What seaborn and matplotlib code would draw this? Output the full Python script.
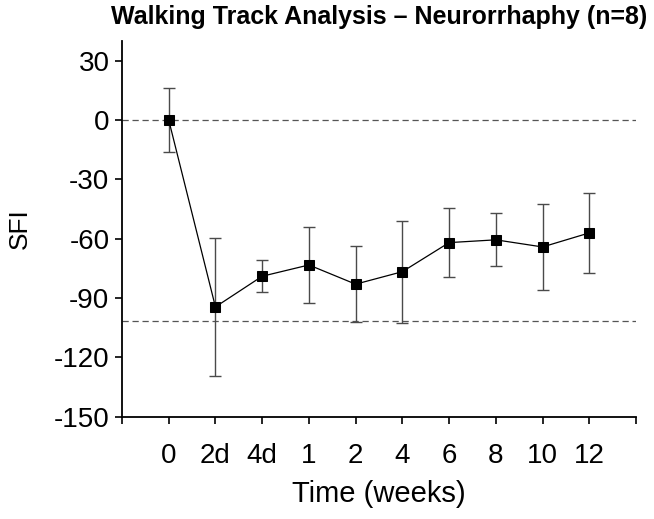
import matplotlib
matplotlib.use("Agg")
import matplotlib.pyplot as plt
import numpy as np
import pandas as pd
import seaborn as sns

time_labels = ["0", "2d", "4d", "1", "2", "4", "6", "8", "10", "12"]
sfi_mean = [0.0, -94.5, -79.0, -73.3, -83.0, -76.7, -62.0, -60.6, -64.2, -57.1]
sfi_err = [16.0, 35.0, 8.0, 19.0, 19.2, 25.8, 17.6, 13.4, 21.9, 20.2]
normal_line = 0.0
denervated_line = -101.5

sns.set_theme(style="ticks")
plt.rcParams["font.family"] = ["Liberation Sans", "DejaVu Sans"]
plt.rcParams["axes.unicode_minus"] = False
plt.rcParams["text.color"] = "black"
plt.rcParams["axes.labelcolor"] = "black"

df = pd.DataFrame({"pos": np.arange(len(time_labels)), "SFI": sfi_mean})

fig = plt.figure(figsize=(6.54, 5.19), dpi=100)
ax = fig.add_axes([0.1865, 0.197, 0.786, 0.7245])

ax.axhline(normal_line, color="#555555", linestyle=(0, (5, 3)), linewidth=0.9, zorder=1)
ax.axhline(denervated_line, color="#555555", linestyle=(0, (5, 3)), linewidth=0.9, zorder=1)

ax.errorbar(df["pos"], df["SFI"], yerr=sfi_err, fmt="none", ecolor="#4a4a4a",
            elinewidth=1.0, capsize=4, capthick=1.0, zorder=2)
sns.lineplot(data=df, x="pos", y="SFI", ax=ax, color="black", linewidth=0.9,
             marker="s", markersize=7, markeredgecolor="black", zorder=3)

ax.set_xlim(-1, 10)
ax.set_ylim(-150, 40)
ax.set_xticks(np.arange(-1, 11))
ax.set_xticklabels([""] + time_labels + [""])
ax.set_yticks(np.arange(-150, 31, 30))

ax.tick_params(axis="both", direction="out", length=5, width=1.2, labelsize=20,
               colors="black", labelcolor="black")
ax.tick_params(axis="x", pad=14)
ax.tick_params(axis="y", pad=4)
for side in ["top", "right"]:
    ax.spines[side].set_visible(False)
for side in ["left", "bottom"]:
    ax.spines[side].set_linewidth(1.3)
    ax.spines[side].set_color("black")

ax.set_xlabel("Time (weeks)", fontsize=21, labelpad=8)
ax.set_ylabel("SFI", fontsize=19, labelpad=16)
ax.set_title("Walking Track Analysis \u2013 Neurorrhaphy (n=8)", fontsize=18,
             fontweight="bold", pad=12)

fig.savefig("out.png", dpi=100)
